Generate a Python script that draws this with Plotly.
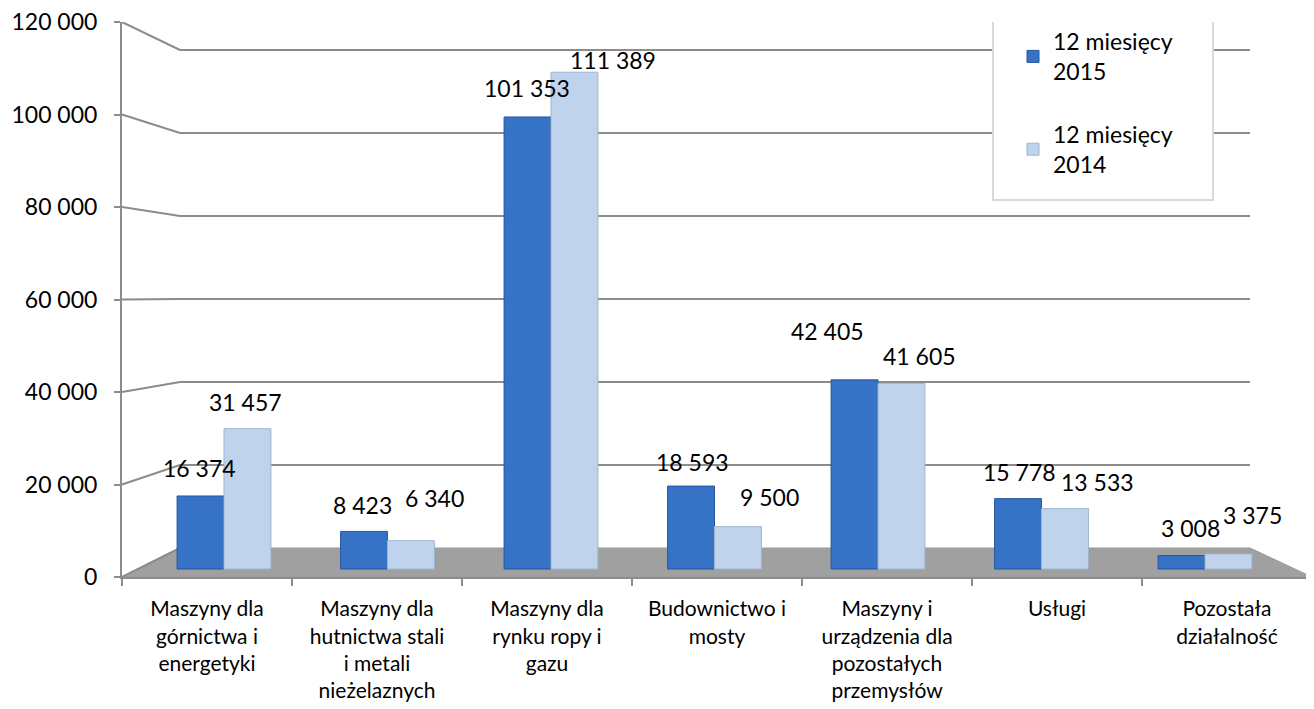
import plotly.graph_objects as go

categories = ["Maszyny dla górnictwa i energetyki",
              "Maszyny dla hutnictwa stali i metali nieżelaznych",
              "Maszyny dla rynku ropy i gazu",
              "Budownictwo i mosty",
              "Maszyny i urządzenia dla pozostałych przemysłów",
              "Usługi",
              "Pozostała działalność"]
tick_labels = ["Maszyny dla<br>górnictwa i<br>energetyki",
               "Maszyny dla<br>hutnictwa stali<br>i metali<br>nieżelaznych",
               "Maszyny dla<br>rynku ropy i<br>gazu",
               "Budownictwo i<br>mosty",
               "Maszyny i<br>urządzenia dla<br>pozostałych<br>przemysłów",
               "Usługi",
               "Pozostała<br>działalność"]
series_2015 = [16374, 8423, 101353, 18593, 42405, 15778, 3008]
series_2014 = [31457, 6340, 111389, 9500, 41605, 13533, 3375]
name_2015 = "12 miesięcy<br>2015"
name_2014 = "12 miesięcy<br>2014"
y_ticks = [0, 20000, 40000, 60000, 80000, 100000, 120000]

# label offsets (px) relative to bar centre / top, as in the reference layout
label_dx_2015 = [-1, -2, -1, 1, -27, 1, 9]
label_dy_2015 = [28, 26, 29, 24, 49, 27, 28]
label_dx_2014 = [-2, 23, 38, 31, 18, 32, 24]
label_dy_2014 = [27, 43, 12, 30, 27, 27, 39]

FONT = "Lato, 'Open Sans', sans-serif"
GRID = "#8c8c8c"
C_DARK = "#3673c6"
C_LIGHT = "#bfd3ed"

OFF = 8  # page body margin
W, H = 1314 - OFF, 709 - OFF
PL, PR, PT, PB = 122, 1312, 22, 577
L, T = PL - OFF, PT - OFF
R, B = W - (PR - OFF), H - (PB - OFF)
PW, PH = PR - PL, PB - PT

def px_x(p):
    return (p - PL) / PW

Y2MAX = 120000
def px_to_y2(p):
    return (PB - p) / PH * Y2MAX

def back_px(v):
    return 548 - v * (548 - 50) / 120000

BAR_BASE_PX = 569
BAR_SCALE = 4.46 / 1000
ylo = (BAR_BASE_PX - PB) / BAR_SCALE
yhi = (BAR_BASE_PX - PT) / BAR_SCALE

fig = go.Figure()
fig.add_trace(go.Bar(x=categories, y=series_2015, name=name_2015, legendgroup="a",
                     marker=dict(color=C_DARK, line=dict(color="#24579c", width=1)),
                     xaxis="x", yaxis="y", hoverinfo="skip"))
fig.add_trace(go.Bar(x=categories, y=series_2014, name=name_2014, legendgroup="b",
                     marker=dict(color=C_LIGHT, line=dict(color="#9fb4d0", width=1)),
                     xaxis="x", yaxis="y", hoverinfo="skip"))
fig.add_trace(go.Scatter(x=categories, y=[0] * len(categories), xaxis="x2", yaxis="y2",
                         mode="markers", marker=dict(opacity=0), showlegend=False,
                         hoverinfo="skip"))

shapes = []
x_front_l, x_front_r = 122, 1312
x_back_l, x_back_r = 180, 1250
fl = [(x_front_l, PB), (x_front_r, PB), (x_back_r, back_px(0)), (x_back_l, back_px(0))]
path = "M " + " L ".join(f"{px_x(x):.5f},{px_to_y2(y):.2f}" for x, y in fl) + " Z"
shapes.append(dict(type="path", path=path, xref="paper", yref="y2", layer="below",
                   fillcolor="#a0a0a0", line=dict(color="#9a9a9a", width=1)))
for v in y_ticks:
    shapes.append(dict(type="line", xref="paper", yref="y2", layer="below",
                       x0=px_x(x_front_l), y0=v, x1=px_x(x_back_l), y1=px_to_y2(back_px(v)),
                       line=dict(color=GRID, width=2)))
    if v > 0:
        shapes.append(dict(type="line", xref="paper", yref="y2", layer="below",
                           x0=px_x(x_back_l), y0=px_to_y2(back_px(v)),
                           x1=px_x(x_back_r), y1=px_to_y2(back_px(v)),
                           line=dict(color=GRID, width=2)))
shapes.append(dict(type="rect", xref="paper", yref="y2", layer="above",
                   x0=px_x(993), x1=px_x(1213), y0=px_to_y2(200), y1=px_to_y2(12),
                   fillcolor="white", line=dict(color="#d9d9d9", width=2)))

def fmt(v):
    return f"{v:,}".replace(",", " ")

BAR_HALF = 23.5
annotations = []
for cat, v, dx, dy in zip(categories, series_2015, label_dx_2015, label_dy_2015):
    annotations.append(dict(x=cat, y=v, xref="x", yref="y", text=fmt(v), showarrow=False,
                            xshift=-BAR_HALF + dx, yshift=dy,
                            font=dict(family=FONT, size=23, color="black")))
for cat, v, dx, dy in zip(categories, series_2014, label_dx_2014, label_dy_2014):
    annotations.append(dict(x=cat, y=v, xref="x", yref="y", text=fmt(v), showarrow=False,
                            xshift=BAR_HALF + dx, yshift=dy,
                            font=dict(family=FONT, size=23, color="black")))

fig.update_layout(
    width=W, height=H,
    margin=dict(l=L, r=R, t=T, b=B, autoexpand=False),
    paper_bgcolor="white", plot_bgcolor="rgba(0,0,0,0)",
    font=dict(family=FONT, size=21, color="black"),
    separators=", ",
    barmode="group", bargap=0.426, bargroupgap=0,
    xaxis=dict(domain=[px_x(142.25), px_x(1286.75)], anchor="y", visible=False,
               categoryorder="array", categoryarray=categories),
    yaxis=dict(domain=[0, 1], anchor="x", range=[ylo, yhi], visible=False),
    xaxis2=dict(domain=[0, 1], anchor="y2", type="category",
                categoryorder="array", categoryarray=categories,
                tickmode="array", tickvals=categories, ticktext=tick_labels,
                ticks="outside", tickson="boundaries", ticklen=7, tickwidth=2,
                tickcolor=GRID, showline=True, linecolor=GRID, linewidth=2,
                showgrid=False, zeroline=False, range=[-0.5, 6.5],
                ticklabelstandoff=12, ticklabeloverflow="allow",
                tickfont=dict(family=FONT, size=21, color="black")),
    yaxis2=dict(domain=[0, 1], anchor="x2", range=[0, Y2MAX],
                tickmode="array", tickvals=y_ticks, tickformat=",d",
                ticks="outside", ticklen=6, tickwidth=2, tickcolor=GRID,
                showline=True, linecolor=GRID, linewidth=2, showgrid=False,
                zeroline=False, ticklabelstandoff=12, ticklabeloverflow="allow",
                tickfont=dict(family=FONT, size=23, color="black")),
    legend=dict(x=px_x(1013), y=px_to_y2(20) / Y2MAX, xanchor="left", yanchor="top",
                bgcolor="rgba(0,0,0,0)", borderwidth=0,
                font=dict(family=FONT, size=23, color="black"),
                traceorder="grouped", tracegroupgap=30, itemwidth=30),
    shapes=shapes, annotations=annotations,
    showlegend=True,
)

fig.write_html("out.html")
